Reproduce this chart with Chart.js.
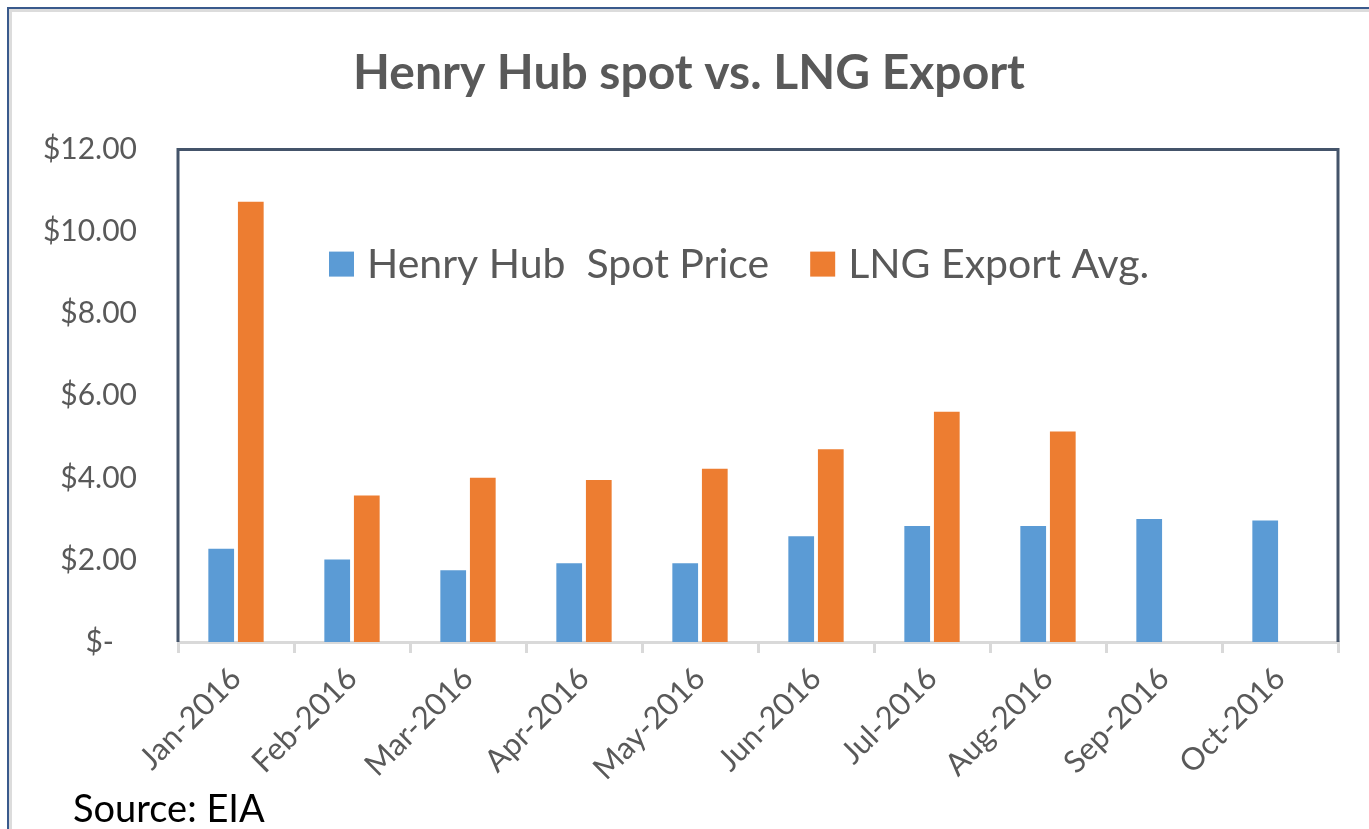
<!DOCTYPE html>
<html>
<head>
<meta charset="utf-8">
<script src="https://cdn.jsdelivr.net/npm/chart.js@4.4.1/dist/chart.umd.min.js"></script>
<style>
  html, body { margin: 0; padding: 0; background: #fff; overflow: hidden; }
  #wrap { position: relative; width: 1369px; height: 829px; }
  #frame {
    position: absolute; left: 7px; top: 7px; right: -20px; bottom: -20px;
    border-left: 2px solid #3a5a8c; border-top: 2px solid #3a5a8c;
    box-shadow: inset 3px 3px 0 #dcdcdc;
  }
  #chart { position: absolute; left: 0; top: 0; }
  #source {
    position: absolute; left: 73px; top: 784px;
    font-family: Lato, sans-serif; font-size: 38px; color: #000;
  }
</style>
</head>
<body>
<div id="wrap">
  <div id="frame"></div>
  <canvas id="chart" width="1369" height="829"></canvas>
  <div id="source">Source: EIA</div>
</div>
<script>
// ─── Data ─────────────────────────────────────────
const months = ['Jan-2016', 'Feb-2016', 'Mar-2016', 'Apr-2016', 'May-2016',
                'Jun-2016', 'Jul-2016', 'Aug-2016', 'Sep-2016', 'Oct-2016'];
const henryHub = [2.27, 2.01, 1.75, 1.92, 1.92, 2.58, 2.83, 2.83, 3.00, 2.96];
const lngExport = [10.73, 3.57, 4.00, 3.95, 4.22, 4.70, 5.61, 5.13, null, null];
const yTicks = [0, 2, 4, 6, 8, 10, 12];

const GREY = '#595959';
const DARK = '#44546a';

// ─── Plot frame (top / left / right in dark, bottom axis stays grey) ──
const framePlugin = {
    id: 'framePlugin',
    afterDatasetsDraw(chart) {
        const { ctx, chartArea: a } = chart;
        ctx.save();
        ctx.strokeStyle = DARK;
        ctx.lineWidth = 3;
        ctx.beginPath();
        ctx.moveTo(a.left, a.bottom);
        ctx.lineTo(a.left, a.top);
        ctx.lineTo(a.right, a.top);
        ctx.lineTo(a.right, a.bottom);
        ctx.stroke();
        ctx.restore();
    }
};

// ─── Legend drawn inside the plot area ─────────────
const innerLegend = {
    id: 'innerLegend',
    afterDraw(chart) {
        const { ctx, chartArea: a } = chart;
        const box = 25;
        let x = a.left + 151;
        const y = a.top + 102;
        ctx.save();
        ctx.font = '41px Lato';
        ctx.textBaseline = 'middle';
        chart.data.datasets.forEach(ds => {
            ctx.fillStyle = ds.backgroundColor;
            ctx.fillRect(x, y, box, box);
            x += box + 13;
            ctx.fillStyle = GREY;
            ctx.fillText(ds.label, x, y + box / 2 + 1);
            x += ctx.measureText(ds.label).width + 41;
        });
        ctx.restore();
    }
};

new Chart(document.getElementById('chart'), {
    type: 'bar',
    data: {
        labels: months,
        datasets: [
            { label: 'Henry Hub  Spot Price', data: henryHub, backgroundColor: '#5b9bd5',
              categoryPercentage: 0.51, barPercentage: 0.87 },
            { label: 'LNG Export Avg.', data: lngExport, backgroundColor: '#ed7d31',
              categoryPercentage: 0.51, barPercentage: 0.87 }
        ]
    },
    options: {
        responsive: false,
        animation: false,
        layout: { padding: { left: 40, right: 31, top: 10, bottom: 0 } },
        plugins: {
            legend: { display: false },
            tooltip: { enabled: false },
            title: {
                display: true,
                text: 'Henry Hub spot vs. LNG Export',
                color: GREY,
                font: { family: 'Lato', size: 48, weight: 'bold' },
                padding: { top: 35, bottom: 47 }
            }
        },
        scales: {
            x: {
                grid: { display: true, drawOnChartArea: false, drawTicks: true,
                        tickLength: 11, lineWidth: 3, color: '#d9d9d9', offset: true },
                border: { display: true, color: '#d9d9d9', width: 3 },
                ticks: { color: GREY, font: { family: 'Lato', size: 31 },
                         minRotation: 45, maxRotation: 45, padding: 7 },
                afterFit(axis) { axis.height = 187; }
            },
            y: {
                min: 0, max: 12,
                afterBuildTicks(axis) { axis.ticks = yTicks.map(v => ({ value: v })); },
                grid: { display: false, drawTicks: false },
                border: { display: false },
                ticks: {
                    color: GREY, font: { family: 'Lato', size: 30 }, padding: 41,
                    callback: v => v === 0 ? '$-   ' : '$' + v.toFixed(2)
                },
                afterFit(axis) { axis.width = 138; }
            }
        }
    },
    plugins: [framePlugin, innerLegend]
});
</script>
</body>
</html>
